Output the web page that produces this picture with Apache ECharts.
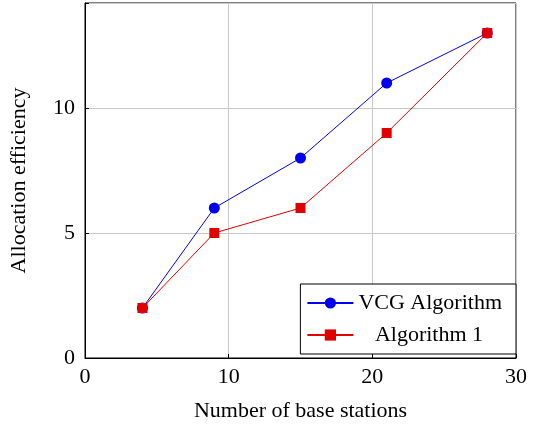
<!DOCTYPE html>
<html>
<head>
<meta charset="utf-8">
<script src="https://cdn.jsdelivr.net/npm/echarts@6/dist/echarts.min.js"></script>
<style>html,body{margin:0;padding:0;background:#fff}#main{width:539px;height:428px}</style>
</head>
<body>
<div id="main"></div>
<script>
const stations = [4, 9, 15, 21, 28];
const vcg = [2, 6, 8, 11, 13];
const alg1 = [2, 5, 6, 9, 13];
const xTicks = [0, 10, 20, 30];
const yTicks = [0, 5, 10];

const font = 'Liberation Serif';
const chart = echarts.init(document.getElementById('main'));
chart.setOption({
  animation: false,
  grid: { left: 84, right: 23, top: 3, bottom: 70, show: true, borderColor: '#000', borderWidth: 1 },
  xAxis: {
    type: 'value', min: 0, max: 30, interval: 10,
    name: 'Number of base stations', nameLocation: 'middle', nameGap: 42,
    nameTextStyle: { fontFamily: font, fontSize: 22, color: '#000' },
    axisLine: { show: true, lineStyle: { color: '#000' } },
    axisTick: { show: true, inside: true, length: 4, lineStyle: { color: '#000' } },
    axisLabel: { fontFamily: font, fontSize: 22, color: '#000', margin: 8 },
    splitLine: { show: true, lineStyle: { color: '#c8c8c8' } }
  },
  yAxis: {
    type: 'value', min: 0, max: 14.2, interval: 5,
    name: 'Allocation efficiency', nameLocation: 'middle', nameGap: 55,
    nameTextStyle: { fontFamily: font, fontSize: 22, color: '#000' },
    axisLine: { show: true, lineStyle: { color: '#000' } },
    axisTick: { show: true, inside: true, length: 4, lineStyle: { color: '#000' } },
    axisLabel: { fontFamily: font, fontSize: 22, color: '#000', margin: 10,
      formatter: v => yTicks.includes(v) ? String(v) : '' },
    splitLine: { show: true, lineStyle: { color: '#c8c8c8' } }
  },
  legend: {
    right: 23, bottom: 74, orient: 'vertical', itemGap: 10,
    backgroundColor: '#fff', borderColor: '#000', borderWidth: 1, padding: [8, 14, 8, 6],
    itemWidth: 46, itemHeight: 14,
    textStyle: { fontFamily: font, fontSize: 22, color: '#000' },
    data: ['VCG Algorithm', '   Algorithm 1']
  },
  series: [
    { name: 'VCG Algorithm', type: 'line', data: stations.map((x, i) => [x, vcg[i]]),
      symbol: 'circle', symbolSize: 11, color: '#0000ee', lineStyle: { width: 1 } },
    { name: '   Algorithm 1', type: 'line', data: stations.map((x, i) => [x, alg1[i]]),
      symbol: 'rect', symbolSize: 10, color: '#e00000', lineStyle: { width: 1 } }
  ]
});
</script>
</body>
</html>
